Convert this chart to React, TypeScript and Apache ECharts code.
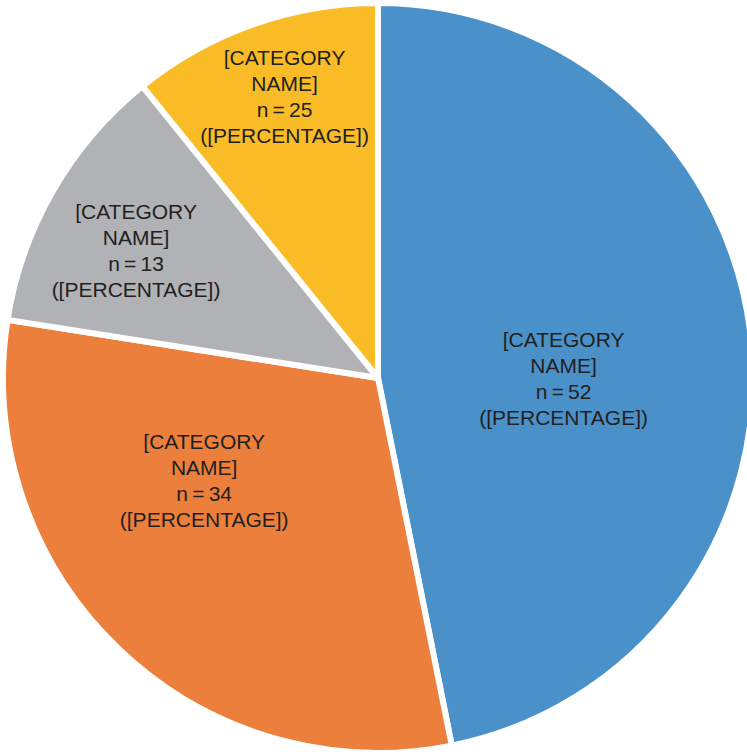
import React, { useEffect, useRef } from "react";
import * as echarts from "echarts";

const categories = ["[CATEGORY NAME] A", "[CATEGORY NAME] B", "[CATEGORY NAME] C", "[CATEGORY NAME] D"];
// slice sizes as drawn in the picture
const values = [52, 34, 13, 12];
// counts printed in the labels
const countLabels = [52, 34, 13, 25];
const colors = ["#4b91c9", "#ec7f3c", "#b1b2b5", "#f9bc27"];
const labelOffsets = [
  [-4, 19],
  [-42, -35],
  [-77, -32],
  [-30, -102],
];

export default function App() {
  const ref = useRef<HTMLDivElement>(null);
  useEffect(() => {
    if (!ref.current) return;
    const chart = echarts.init(ref.current, null, { renderer: "svg" });
    chart.setOption({
      animation: false,
      series: [
        {
          type: "pie",
          center: [378, 378],
          radius: 375,
          startAngle: 90,
          clockwise: true,
          avoidLabelOverlap: false,
          itemStyle: { borderColor: "#ffffff", borderWidth: 6 },
          label: {
            show: true,
            position: "inside",
            color: "#231f20",
            fontFamily: "Liberation Sans, Arial, sans-serif",
            fontSize: 21,
            lineHeight: 26,
            align: "center",
          },
          labelLine: { show: false },
          emphasis: { disabled: true },
          data: values.map((v, i) => ({
            value: v,
            name: categories[i],
            itemStyle: { color: colors[i] },
            label: {
              offset: labelOffsets[i],
              formatter: "[CATEGORY\nNAME]\nn\u2009=\u2009" + countLabels[i] + "\n([PERCENTAGE])",
            },
          })),
        },
      ],
    });
    return () => chart.dispose();
  }, []);
  return (
    <div
      ref={ref}
      style={{ position: "fixed", left: 0, top: 0, width: 747, height: 752, background: "#ffffff" }}
    />
  );
}
